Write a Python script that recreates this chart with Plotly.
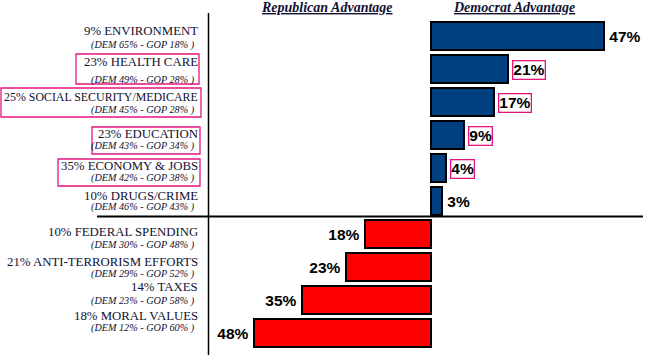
import plotly.graph_objects as go

# ---- data ----
issues = ["ENVIRONMENT", "HEALTH CARE", "SOCIAL SECURITY/MEDICARE", "EDUCATION",
          "ECONOMY & JOBS", "DRUGS/CRIME", "FEDERAL SPENDING", "ANTI-TERRORISM EFFORTS",
          "TAXES", "MORAL VALUES"]
importance = [9, 23, 25, 23, 35, 10, 10, 21, 14, 18]
dem_pct = [65, 49, 45, 43, 42, 46, 30, 29, 23, 12]
gop_pct = [18, 28, 28, 34, 38, 43, 48, 52, 58, 60]
advantage = [47, 21, 17, 9, 4, 3, -18, -23, -35, -48]
highlighted = [False, True, True, True, True, False, False, False, False, False]
value_boxed = [False, True, True, True, True, False, False, False, False, False]

# ---- layout constants (pixels) ----
W, H = 651, 355
ZERO_PX = 431
PX_PER_PCT = 3.68
ROW0_PX = 36
ROW_STEP = 33
NAVY = "#01407E"
RED = "#FF0000"
MAGENTA = "#E5157E"
SERIF = "Liberation Serif, Times New Roman, serif"

cats = list(range(len(issues)))
colors = [NAVY if v > 0 else RED for v in advantage]

fig = go.Figure()
fig.add_trace(go.Bar(
    y=cats, x=advantage, orientation="h",
    marker=dict(color=colors, line=dict(color="black", width=2)),
    width=0.85, hoverinfo="skip"))

x_range = [(0 - ZERO_PX) / PX_PER_PCT, (W - ZERO_PX) / PX_PER_PCT]
y_range = [(H - ROW0_PX) / ROW_STEP, (0 - ROW0_PX) / ROW_STEP]

def px_x(p):
    return p / W

def px_y(p):
    return 1 - p / H

annotations = []
# value labels
for i, v in enumerate(advantage):
    annotations.append(dict(
        x=v, y=i, xref="x", yref="y",
        text=f"<b>{abs(v)}%</b>",
        xanchor="left" if v > 0 else "right",
        xshift=4 if v > 0 else -4, yshift=-1,
        showarrow=False,
        font=dict(family="Arial, Liberation Sans", size=15.5, color="black"),
        bordercolor=MAGENTA if value_boxed[i] else "rgba(0,0,0,0)",
        borderwidth=1.3, borderpad=0))

# issue labels (two lines per row)
main_shift = [5, 7.5, 5.3, 1.5, 2, 5, 2, 5.3, 13, 17.5]
sub_shift = [-9, -10.5, -7.5, -11, -9.7, -6, -11, -7.3, -0.5, 4.7]
main_size = {2: 11.9}
for i in cats:
    annotations.append(dict(
        x=px_x(199.5), y=i, xref="paper", yref="y", xanchor="right", yanchor="middle",
        yshift=main_shift[i], showarrow=False,
        text=f"{importance[i]}% {issues[i]}",
        font=dict(family=SERIF, size=main_size.get(i, 12.8), color="#111133")))
    annotations.append(dict(
        x=px_x(197), y=i, xref="paper", yref="y", xanchor="right", yanchor="middle",
        yshift=sub_shift[i], showarrow=False,
        text=f"<i>(DEM {dem_pct[i]}% - GOP {gop_pct[i]}% )</i>",
        font=dict(family=SERIF, size=10.2, color="#111133")))

# headers
annotations.append(dict(x=px_x(327), y=px_y(8), xref="paper", yref="paper",
                        xanchor="center", yanchor="middle",
                        text="<b><i><u>Republican Advantage</u></i></b>", showarrow=False,
                        font=dict(family=SERIF, size=14, color="#111133")))
annotations.append(dict(x=px_x(514), y=px_y(8), xref="paper", yref="paper",
                        xanchor="center", yanchor="middle",
                        text="<b><i><u>Democrat Advantage</u></i></b>", showarrow=False,
                        font=dict(family=SERIF, size=14, color="#111133")))

shapes = [
    dict(type="line", xref="paper", yref="paper", x0=px_x(208.5), x1=px_x(208.5),
         y0=px_y(13), y1=px_y(355), line=dict(color="black", width=1.5)),
    dict(type="line", xref="paper", yref="paper", x0=px_x(97), x1=px_x(643),
         y0=px_y(216.5), y1=px_y(216.5), line=dict(color="black", width=2)),
]
# magenta boxes around highlighted issue labels
box_px = {1: (76, 54, 199, 84), 2: (1, 88, 201, 117), 3: (92, 127, 200, 154), 4: (58, 159, 200, 186)}
for i, (x0, y0, x1, y1) in box_px.items():
    if highlighted[i]:
        shapes.append(dict(type="rect", xref="paper", yref="paper",
                           x0=px_x(x0), x1=px_x(x1), y0=px_y(y0), y1=px_y(y1),
                           line=dict(color=MAGENTA, width=1.3)))

fig.update_layout(
    width=W, height=H, margin=dict(l=0, r=0, t=0, b=0),
    paper_bgcolor="white", plot_bgcolor="white",
    showlegend=False, bargap=0,
    xaxis=dict(range=x_range, visible=False, fixedrange=True),
    yaxis=dict(range=y_range, visible=False, fixedrange=True),
    annotations=annotations, shapes=shapes,
)

fig.write_html("out.html", config={"displayModeBar": False},
               post_script="document.body.style.margin='0';document.body.style.padding='0';")
